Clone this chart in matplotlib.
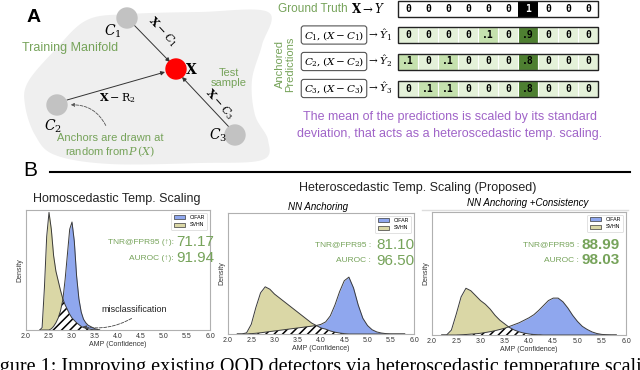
import numpy as np
import matplotlib.pyplot as plt
from matplotlib.patches import Circle, Rectangle, Patch

plt.rcParams['font.family'] = ['Liberation Sans', 'DejaVu Sans']
plt.rcParams['mathtext.fontset'] = 'dejavuserif'
plt.rcParams['hatch.linewidth'] = 1.1

# ---------------- data ----------------
gt_row = [0, 0, 0, 0, 0, 0, 1, 0, 0, 0]
pred_c1 = [0, 0, 0, 0, .1, 0, .9, 0, 0, 0]
pred_c2 = [.1, 0, .1, 0, 0, 0, .8, 0, 0, 0]
pred_c3 = [0, .1, .1, 0, 0, 0, .8, 0, 0, 0]

# homoscedastic panel (density scaled so the axes top is 1.0)
amp_homo = [2.30, 2.35, 2.40, 2.45, 2.50, 2.55, 2.60, 2.65, 2.70, 2.75, 2.80, 2.85, 2.90, 2.95,
            3.00, 3.05, 3.10, 3.15, 3.20, 3.25, 3.30, 3.35, 3.40, 3.45, 3.50, 3.55, 3.60]
svhn_homo = [0, 0.02, 0.35, 0.78, 0.98, 0.84, 0.62, 0.49, 0.41, 0.33, 0.26, 0.21, 0.17, 0.13,
             0.10, 0.08, 0.06, 0.045, 0.03, 0.02, 0.015, 0.01, 0.006, 0.003, 0.001, 0, 0]
cifar_homo = [0, 0, 0, 0, 0, 0.01, 0.03, 0.06, 0.10, 0.16, 0.25, 0.42, 0.63, 0.84,
              0.90, 0.74, 0.45, 0.26, 0.15, 0.09, 0.06, 0.04, 0.03, 0.02, 0.01, 0.005, 0]

# heteroscedastic panels
amp_het = [2.2, 2.3, 2.4, 2.5, 2.6, 2.7, 2.8, 2.9, 3.0, 3.1, 3.2, 3.3, 3.4, 3.5, 3.6, 3.7, 3.8, 3.9,
           4.0, 4.1, 4.2, 4.3, 4.4, 4.5, 4.6, 4.7, 4.8, 4.9, 5.0, 5.1, 5.2, 5.3, 5.4, 5.5, 5.6, 5.7, 5.8]
svhn_nn = [0, 0, 0.01, 0.08, 0.22, 0.34, 0.39, 0.37, 0.33, 0.30, 0.27, 0.24, 0.21, 0.18, 0.15, 0.12,
           0.09, 0.07, 0.05, 0.04, 0.025, 0.015, 0.008, 0.003, 0, 0, 0, 0, 0, 0, 0, 0, 0, 0, 0, 0, 0]
cifar_nn = [0, 0, 0, 0.003, 0.006, 0.01, 0.015, 0.02, 0.025, 0.03, 0.035, 0.04, 0.045, 0.05, 0.055,
            0.06, 0.065, 0.07, 0.08, 0.10, 0.15, 0.24, 0.35, 0.44, 0.47, 0.38, 0.24, 0.13, 0.07,
            0.035, 0.017, 0.008, 0.003, 0, 0, 0, 0]
svhn_cons = [0, 0, 0.04, 0.17, 0.31, 0.38, 0.36, 0.32, 0.28, 0.25, 0.21, 0.16, 0.12, 0.09, 0.06,
             0.04, 0.025, 0.015, 0.008, 0.004, 0.002, 0, 0, 0, 0, 0, 0, 0, 0, 0, 0, 0, 0, 0, 0, 0, 0]
cifar_cons = [0, 0, 0, 0, 0.002, 0.004, 0.007, 0.01, 0.014, 0.02, 0.027, 0.035, 0.045, 0.055, 0.07,
              0.085, 0.10, 0.12, 0.14, 0.165, 0.20, 0.24, 0.28, 0.30, 0.30, 0.27, 0.22, 0.16, 0.11,
              0.07, 0.045, 0.025, 0.012, 0.005, 0.002, 0, 0]

tnr_vals = ["71.17", "81.10", "88.99"]
auroc_vals = ["91.94", "96.50", "98.03"]

# ---------------- style ----------------
GREEN = '#76a35a'
PURPLE = '#a064c8'
BLUE = '#8fa7ee'
KHAKI = '#dad7a6'
EDGE = '#3a3a3a'

fig = plt.figure(figsize=(6.4, 3.7), dpi=100)


def px_rect(x0, y0, x1, y1):
    return [x0 / 640, 1 - y1 / 370, (x1 - x0) / 640, (y1 - y0) / 370]


def density_panel(rect, x, svhn, cifar):
    ax = fig.add_axes(rect)
    x = np.array(x)
    svhn = np.array(svhn)
    cifar = np.array(cifar)
    ax.fill_between(x, svhn, color=KHAKI, lw=0)
    ax.fill_between(x, cifar, color=BLUE, lw=0)
    ax.fill_between(x, np.minimum(svhn, cifar), facecolor='white', edgecolor='black',
                    hatch='////', lw=0)
    ax.plot(x, svhn, color=EDGE, lw=0.7)
    ax.plot(x, cifar, color=EDGE, lw=0.7)
    ax.set_xlim(2, 6)
    ax.set_ylim(0, 1)
    ax.set_xticks(np.arange(2, 6.01, 0.5))
    ax.set_yticks([])
    ax.tick_params(axis='x', labelsize=5, length=0, pad=2, labelcolor='#333333')
    ax.set_xlabel('AMP (Confidence)', fontsize=5, labelpad=1, color='#333333')
    ax.set_ylabel('Density', fontsize=5, labelpad=2, color='#333333')
    for s in ax.spines.values():
        s.set_color('#b0b0b0')
        s.set_linewidth(0.8)
    handles = [Patch(facecolor=BLUE, edgecolor=EDGE, lw=0.5, label='CIFAR'),
               Patch(facecolor=KHAKI, edgecolor=EDGE, lw=0.5, label='SVHN')]
    leg = ax.legend(handles=handles, loc='upper right', fontsize=3.8, handlelength=2.2,
                    handleheight=0.8, borderpad=0.5, labelspacing=0.4, framealpha=1)
    leg.get_frame().set_linewidth(0.4)
    return ax


ax1 = density_panel(px_rect(26, 210, 210, 330), amp_homo, svhn_homo, cifar_homo)
ax2 = density_panel(px_rect(228, 213, 414, 334), amp_het, svhn_nn, cifar_nn)
ax3 = density_panel(px_rect(432, 212, 626, 335), amp_het, svhn_cons, cifar_cons)

# ---------------- overlay in pixel coordinates ----------------
ov = fig.add_axes([0, 0, 1, 1], zorder=10)
ov.set_xlim(0, 640)
ov.set_ylim(370, 0)
ov.axis('off')


def closed_spline(pts, n=20):
    pts = np.array(pts, dtype=float)
    m = len(pts)
    out = []
    for i in range(m):
        p0, p1, p2, p3 = pts[i - 1], pts[i], pts[(i + 1) % m], pts[(i + 2) % m]
        for t in np.linspace(0, 1, n, endpoint=False):
            t2, t3 = t * t, t * t * t
            out.append(0.5 * (2 * p1 + (-p0 + p2) * t + (2 * p0 - 5 * p1 + 4 * p2 - p3) * t2
                              + (-p0 + 3 * p1 - 3 * p2 + p3) * t3))
    return np.array(out)


blob = closed_spline([(87, 20), (130, 14), (200, 12), (268, 12), (262, 45), (252, 80),
                      (255, 115), (268, 140), (262, 160), (200, 163), (110, 164), (55, 155),
                      (35, 135), (25, 105), (28, 82), (55, 50)])
ov.fill(blob[:, 0], blob[:, 1], color='#efefef', lw=0, zorder=1)

ov.text(27, 17, 'A', fontsize=14, fontweight='bold', ha='left', va='center', zorder=5)

# manifold nodes
for (cx, cy) in [(127, 18), (57, 105), (235, 135)]:
    ov.add_patch(Circle((cx, cy), 10, color='#c2c2c2', zorder=4))
ov.add_patch(Circle((176, 69), 10, color='#ff0000', zorder=4))

arrow = dict(arrowstyle='-|>', color='#333333', lw=0.7, mutation_scale=6, shrinkA=0, shrinkB=0)
ov.annotate('', xy=(170, 62), xytext=(134, 25), arrowprops=arrow, zorder=3)
ov.annotate('', xy=(165, 72), xytext=(67, 100), arrowprops=arrow, zorder=3)
ov.annotate('', xy=(182, 77), xytext=(229, 127), arrowprops=arrow, zorder=3)

ov.text(163, 32, r'$\mathbf{X} - C_1$', rotation=-47, fontsize=8, ha='center', va='center', zorder=5)
ov.text(117, 98, r'$\mathbf{X} - \mathrm{R}_2$', fontsize=8, ha='center', va='center', zorder=5)
ov.text(220, 104, r'$\mathbf{X} - C_3$', rotation=-48, fontsize=8, ha='center', va='center', zorder=5)
ov.text(113, 31, r'$C_1$', fontsize=10, ha='center', va='center', zorder=5)
ov.text(53, 126, r'$C_2$', fontsize=10, ha='center', va='center', zorder=5)
ov.text(218, 135, r'$C_3$', fontsize=10, ha='center', va='center', zorder=5)
ov.text(191, 69, r'$\mathbf{X}$', fontsize=10, ha='center', va='center', zorder=5)

ov.text(70, 48, 'Training Manifold', color=GREEN, fontsize=9, ha='center', va='center', zorder=5)
ov.text(229, 78, 'Test\nsample', color=GREEN, fontsize=8, ha='center', va='center',
        linespacing=1.1, zorder=5)
ov.text(110, 146, 'Anchors are drawn at\nrandom from' + r'$P\,(X)$', color=GREEN, fontsize=8,
        ha='center', va='center', linespacing=1.2, zorder=5)
ov.annotate('', xy=(68, 105), xytext=(107, 128),
            arrowprops=dict(arrowstyle='-|>', color='#555555', lw=0.6, ls='--', mutation_scale=5,
                            connectionstyle='arc3,rad=0.35'), zorder=5)

# prediction table
cell_w, x_tab = 20, 398
rows = [(gt_row, 9), (pred_c1, 35), (pred_c2, 61.5), (pred_c3, 88.5)]
for r, (vals, yc) in enumerate(rows):
    for i, v in enumerate(vals):
        if r == 0:
            fc = '#000000' if v == 1 else 'white'
            tc = 'white' if v == 1 else 'black'
            lab = str(v)
        else:
            fc = '#4e7f31' if v >= 0.5 else ('#c5e1ae' if v > 0 else '#e4f1d9')
            tc = 'black'
            lab = '0' if v == 0 else ('%.1f' % v)[1:]
        ov.add_patch(Rectangle((x_tab + i * cell_w, yc - 8), cell_w, 16, facecolor=fc,
                               edgecolor='white' if r else 'none', lw=0.8, zorder=3))
        ov.text(x_tab + i * cell_w + cell_w / 2, yc, lab, color=tc, fontsize=7,
                family='DejaVu Sans Mono', fontweight='bold', ha='center', va='center', zorder=5)
    ov.add_patch(Rectangle((x_tab, yc - 8), cell_w * 10, 16, fill=False,
                           edgecolor='#222222', lw=1, zorder=4))

ov.text(348, 9, 'Ground Truth', color=GREEN, fontsize=8.5, ha='right', va='center')
ov.text(351, 9, r'$\mathbf{X} \rightarrow Y$', fontsize=8.5, ha='left', va='center')
for k, yc in enumerate([35, 61.5, 88.5], start=1):
    ov.text(334, yc, r'$C_%d, (X - C_%d)$' % (k, k), fontsize=7.5, ha='center', va='center',
            bbox=dict(boxstyle='round,pad=0.25', fc='white', ec='#555555', lw=0.8))
    ov.text(367, yc, r'$\rightarrow \hat{Y}_%d$' % k, fontsize=7.5, ha='left', va='center')
ov.text(285, 64, 'Anchored\nPredictions', color=GREEN, fontsize=8, rotation=90,
        ha='center', va='center', linespacing=1.0)
ov.text(450, 117, 'The mean of the predictions is scaled by its standard', color=PURPLE,
        fontsize=9, ha='center', va='center')
ov.text(450, 134, 'deviation, that acts as a heteroscedastic temp. scaling.', color=PURPLE,
        fontsize=9, ha='center', va='center')

# panel B header
ov.text(30, 171, 'B', fontsize=15, ha='center', va='center')
ov.plot([50, 630], [172, 172], color='black', lw=1.5)
ov.text(117, 199, 'Homoscedastic Temp. Scaling', fontsize=9, ha='center', va='center', color='#222222')
ov.text(418, 188, 'Heteroscedastic Temp. Scaling (Proposed)', fontsize=9, ha='center',
        va='center', color='#222222')
ov.plot([422, 628], [210, 210], color='#dddddd', lw=1)
ov.text(318, 207, 'NN Anchoring', fontsize=7, style='italic', ha='center', va='center')
ov.text(528, 203, 'NN Anchoring +Consistency', fontsize=7, style='italic', ha='center', va='center')

# metrics
metric_pos = [(174, 176, ' (↑):', 'normal'), (371, 376, ' :', 'normal'), (579, 582, ' :', 'bold')]
metric_y = [(242, 258), (245, 261), (245, 260)]
for j, ((xl, xn, sep, wt), (yt, ya)) in enumerate(zip(metric_pos, metric_y)):
    ov.text(xl, yt, 'TNR@FPR95' + sep, color=GREEN, fontsize=6, ha='right', va='center')
    ov.text(xn, yt, tnr_vals[j], color=GREEN, fontsize=11, fontweight=wt, ha='left', va='center')
    ov.text(xl, ya, 'AUROC' + sep, color=GREEN, fontsize=6, ha='right', va='center')
    ov.text(xn, ya, auroc_vals[j], color=GREEN, fontsize=11, fontweight=wt, ha='left', va='center')

ov.text(134, 310, 'misclassification', fontsize=6.5, ha='center', va='center', color='#222222')
ov.annotate('', xy=(80, 326), xytext=(134, 317),
            arrowprops=dict(arrowstyle='-|>', color='#444444', lw=0.6, ls='--', mutation_scale=5,
                            connectionstyle='arc3,rad=-0.2'))

# caption, cut off by the bottom edge as in the source figure
ov.text(-17, 372, 'Figure 1: Improving existing OOD detectors via heteroscedastic temperature scaling',
        family='Liberation Serif', fontsize=14.5, ha='left', va='baseline')

fig.savefig('out.png', dpi=100)
